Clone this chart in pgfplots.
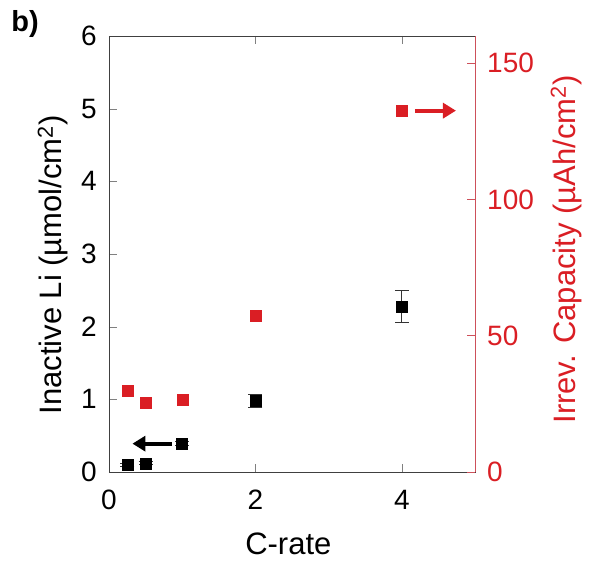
\documentclass[border=0pt]{standalone}
\usepackage{pgfplots}
\pgfplotsset{compat=1.18}
\usetikzlibrary{arrows.meta}
\usepackage{fontspec}
\setmainfont{Liberation Sans}
\definecolor{irrev}{RGB}{218,30,36}
\definecolor{irrevaxis}{RGB}{205,80,90}
\begin{document}
\begin{tikzpicture}
\useasboundingbox (-109pt,-89pt) rectangle (480pt,472pt);
\pgfplotsset{
  every axis/.append style={
    scale only axis, width=366pt, height=436pt,
    xmin=0, xmax=5,
    tick align=inside, major tick length=8pt,
    /pgf/number format/assume math mode=true,
    tick label style={font=\fontsize{28}{33}\selectfont},
    label style={font=\fontsize{31}{36}\selectfont},
  },
}
% left axis: inactive Li
\begin{axis}[
  ymin=0, ymax=6, ytick={0,1,...,6},
  xtick={0,2,4}, xtick pos=both, ytick pos=left,
  axis line style={black!75, line width=0.8pt},
  xticklabel style={anchor=north, inner sep=0pt, yshift=-18pt},
  yticklabel style={anchor=east, inner sep=0pt, xshift=-12pt},
  xlabel={C-rate}, ylabel={Inactive Li (µmol/cm\textsuperscript{2})},
  xlabel style={at={(axis description cs:0.49,-0.165)}, anchor=center},
  ylabel style={at={(axis description cs:-0.153,0.475)}, anchor=center},
]
\addplot[only marks, mark=square*, mark size=5.5pt, black,
  error bars/.cd, y dir=both, y explicit,
  error bar style={line width=1pt, black!80},
  error mark options={rotate=90, mark size=7pt, line width=1pt}]
  coordinates {
  (0.25,0.10) +- (0,0.02)
  (0.5,0.12)  +- (0,0.02)
  (1,0.39)    +- (0,0.03)
  (2,0.98)    +- (0,0.09)
  (4,2.28)    +- (0,0.22)
};
\draw[-{Triangle[length=13pt,width=15pt]}, line width=4pt] (axis cs:0.86,0.39) -- (axis cs:0.32,0.39);
\end{axis}
% right axis: irreversible capacity
\begin{axis}[
  ymin=0, ymax=160, ytick={0,50,100,150},
  axis y line*=right, axis x line=none,
  y axis line style={irrevaxis, line width=0.8pt},
  ytick style={irrevaxis, line width=0.8pt},
  yticklabel style={irrev, anchor=west, inner sep=0pt, xshift=12pt},
  ylabel={Irrev. Capacity (µAh/cm\textsuperscript{2})},
  ylabel style={irrev, at={(axis description cs:1.249,0.51)}, anchor=center},
]
\addplot[only marks, mark=square*, mark size=5.5pt, irrev] coordinates {
  (0.25,30.0) (0.5,25.6) (1,26.7) (2,57.4) (4,132.6)
};
\draw[-{Triangle[length=13pt,width=15pt]}, line width=4pt, irrev] (axis cs:4.18,132.6) -- (axis cs:4.74,132.6);
\end{axis}
\node[font=\fontsize{29}{34}\selectfont\bfseries] at (-84pt,448pt) {b)};
\end{tikzpicture}
\end{document}
